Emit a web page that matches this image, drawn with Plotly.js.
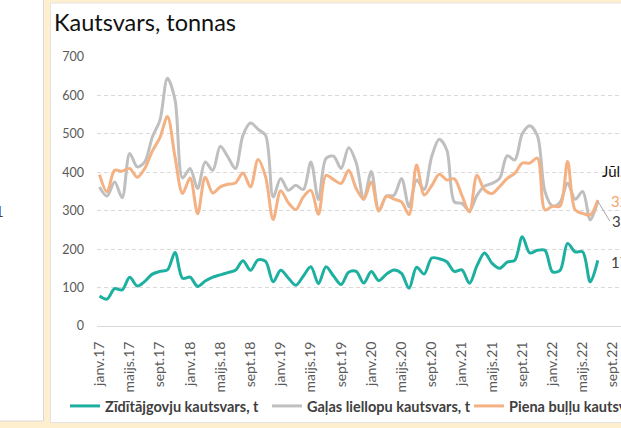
<!DOCTYPE html>
<html><head><meta charset="utf-8">
<script src="https://cdn.plot.ly/plotly-3.0.1.min.js"></script>
<style>
html,body{margin:0;padding:0;overflow:hidden;background:#fff;width:621px;height:428px}
#chart{position:absolute;left:0;top:0;width:700px;height:428px}
</style>
</head><body><div id="chart"></div>
<script>
// Month categories (Jan 2017 .. Sep 2022); data runs to Jul 2022
const months = [
 "janv.17","febr.17","marts.17","apr.17","maijs.17","jūn.17","jūl.17","aug.17","sept.17","okt.17","nov.17","dec.17",
 "janv.18","febr.18","marts.18","apr.18","maijs.18","jūn.18","jūl.18","aug.18","sept.18","okt.18","nov.18","dec.18",
 "janv.19","febr.19","marts.19","apr.19","maijs.19","jūn.19","jūl.19","aug.19","sept.19","okt.19","nov.19","dec.19",
 "janv.20","febr.20","marts.20","apr.20","maijs.20","jūn.20","jūl.20","aug.20","sept.20","okt.20","nov.20","dec.20",
 "janv.21","febr.21","marts.21","apr.21","maijs.21","jūn.21","jūl.21","aug.21","sept.21","okt.21","nov.21","dec.21",
 "janv.22","febr.22","marts.22","apr.22","maijs.22","jūn.22","jūl.22","aug.22","sept.22"
];
const tickLabels = ["janv.17","maijs.17","sept.17","janv.18","maijs.18","sept.18","janv.19","maijs.19","sept.19",
 "janv.20","maijs.20","sept.20","janv.21","maijs.21","sept.21","janv.22","maijs.22","sept.22"];

const seriesNames = ["Zīdītājgovju kautsvars, t","Gaļas liellopu kautsvars, t","Piena buļļu kautsvars, t"];

const zidGovju = [78,70,97,94,127,104,116,135,142,146,
 191,124,127,103,117,127,133,139,145,170,
 145,172,168,115,145,125,106,130,154,110,
 154,130,108,140,142,112,142,118,135,146,
 137,98,153,135,177,175,167,142,146,111,
 157,190,163,150,166,171,232,190,197,197,
 141,145,215,193,193,115,171];

const galasLiellopu = [362,338,375,334,449,414,427,492,535,645,
 589,385,410,358,427,405,468,440,410,496,
 528,512,496,336,384,353,366,355,427,329,
 436,442,410,464,425,330,402,300,338,340,
 384,310,380,355,441,486,458,323,319,300,
 340,364,371,384,443,432,500,521,495,350,
 312,322,372,330,350,276,325];

const pienaBullu = [394,349,405,403,410,387,410,455,490,545,
 440,345,385,292,387,346,362,369,372,398,
 362,433,388,277,352,321,303,336,353,291,
 392,381,371,405,358,330,375,299,338,330,
 323,290,419,341,365,395,380,383,340,297,
 392,354,345,363,384,397,424,424,437,302,
 312,312,428,302,293,289,328];

const endLabelTitle = "Jūl. 2022";

const colors = ["#1DB0A0","#BFBFBF","#F4B183"];
const W = 700, H = 428, L = 97, R = 60, T = 57, B = 102;
const PW = W - L - R, PH = H - T - B;
const px2x = p => (p - L) / PW;
const py2y = p => (T + PH - p) / PH;
const FONT = "Lato, 'Open Sans', sans-serif";

const series = [zidGovju, galasLiellopu, pienaBullu];
const traces = series.map((vals, i) => ({
  type: "scatter", mode: "lines",
  x: months.slice(0, vals.length), y: vals,
  name: seriesNames[i],
  line: {color: colors[i], width: 3, shape: "spline", smoothing: 0.9},
  hoverinfo: "skip"
}));

const last = zidGovju.length - 1;
const lastCat = months[last];

const shapes = [
  {type:"rect", xref:"paper", yref:"paper", x0:px2x(-5), x1:px2x(W+5), y0:py2y(H+5), y1:py2y(-5),
   fillcolor:"#FEF0CE", line:{width:0}, layer:"below"},
  {type:"rect", xref:"paper", yref:"paper", x0:px2x(-5), x1:px2x(43.5), y0:py2y(421), y1:py2y(-5),
   fillcolor:"#FFFFFF", line:{color:"#D9D9D9", width:1}, layer:"below"},
  {type:"rect", xref:"paper", yref:"paper", x0:px2x(50.5), x1:px2x(W+5), y0:py2y(422.5), y1:py2y(3),
   fillcolor:"#FFFFFF", line:{color:"#E3E3E3", width:1}, layer:"below"}
];

const annotations = [
  {xref:"paper", yref:"paper", x:px2x(6), y:py2y(211), xanchor:"right", yanchor:"middle",
   text:"1", showarrow:false, font:{family:FONT, size:15, color:"#404040"}},
  {x:lastCat, y:pienaBullu[last], xanchor:"left", yanchor:"middle", xshift:2, yshift:29,
   text:endLabelTitle, showarrow:false, font:{family:FONT, size:15, color:"#111111"}},
  {x:lastCat, y:pienaBullu[last], xanchor:"left", yanchor:"middle", xshift:11, yshift:-1,
   text:String(pienaBullu[last]), showarrow:false, font:{family:FONT, size:15, color:"#F4A46E"}},
  {x:lastCat, y:galasLiellopu[last], xanchor:"left", yanchor:"middle", ax:12, ay:20,
   arrowhead:0, arrowwidth:1, arrowcolor:"#A6A6A6", standoff:0, startstandoff:0,
   text:String(galasLiellopu[last]), showarrow:true, font:{family:FONT, size:15, color:"#404040"}},
  {x:lastCat, y:zidGovju[last], xanchor:"left", yanchor:"middle", xshift:11, yshift:-2,
   text:String(zidGovju[last]), showarrow:false, font:{family:FONT, size:15, color:"#404040"}}
];

const layout = {
  width: W, height: H,
  margin: {l:L, r:R, t:T, b:B, pad:0, autoexpand:false},
  paper_bgcolor: "#FFFFFF", plot_bgcolor: "rgba(0,0,0,0)",
  font: {family: FONT, color: "#595959"},
  title: {text: "Kautsvars, tonnas", xref:"container", yref:"container",
          x: 54/W, xanchor:"left", y: 1 - 23/H, yanchor:"middle",
          font: {family: FONT, size: 23.5, color: "#111111"}},
  xaxis: {type:"category", categoryorder:"array", categoryarray: months,
          range:[(L - 99.5) / 7.55, (L + PW - 99.5) / 7.55],
          tickmode:"array", tickvals: tickLabels, ticktext: tickLabels,
          tickangle:-90, ticks:"", ticklabelstandoff: 9, automargin:false,
          tickfont:{family:FONT, size:14, color:"#595959"},
          showgrid:false, showline:true, linecolor:"#D9D9D9", linewidth:1, zeroline:false},
  yaxis: {range:[0,700], tickmode:"linear", tick0:0, dtick:100, automargin:false,
          tickfont:{family:FONT, size:12.5, color:"#595959"}, ticks:"", ticklabelstandoff:12,
          showgrid:true, gridcolor:"#D9D9D9", gridwidth:1, griddash:"4px,3px",
          zeroline:false, showline:false},
  showlegend: true,
  legend: {orientation:"h", x: px2x(65), xanchor:"left", y: py2y(406), yanchor:"middle",
           bgcolor:"rgba(0,0,0,0)", font:{family:FONT, size:14.5, color:"#404040", weight:"bold"},
           tracegroupgap:0, entrywidth:157, entrywidthmode:"pixels"},
  shapes: shapes,
  annotations: annotations,
  hovermode: false
};

Plotly.newPlot("chart", traces, layout, {displayModeBar:false, staticPlot:true});
</script>
</body></html>
